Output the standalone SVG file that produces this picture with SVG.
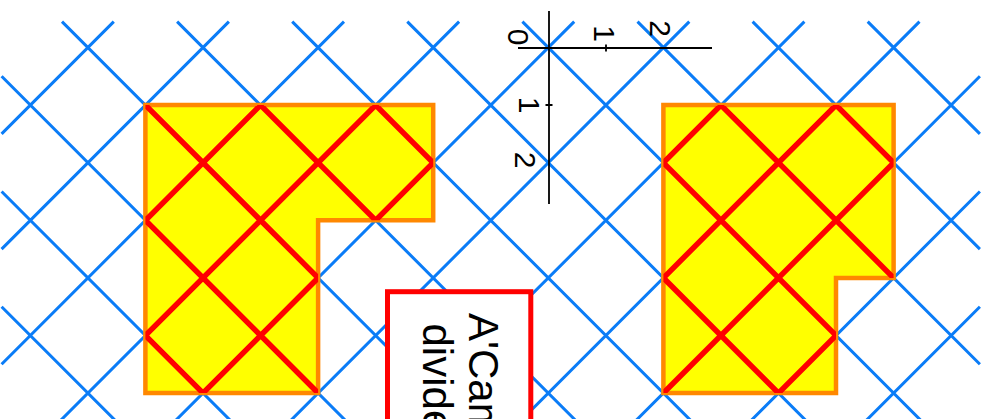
<svg xmlns="http://www.w3.org/2000/svg" xmlns:xlink="http://www.w3.org/1999/xlink" width="988" height="419" viewBox="0 0 988 419">
<style>
.grid{fill:none;stroke:#0a7cf7;stroke-width:3}
.red{fill:none;stroke:#ff0000;stroke-width:5.5}
.shape{fill:#ffff00;stroke:#ff8800;stroke-width:4.5}
.axis{fill:none;stroke:#000;stroke-width:1.8}
.lbl{font-family:"Liberation Sans",Arial,sans-serif;font-size:30px;fill:#000}
.note{fill:#fff;stroke:#ff0000;stroke-width:5}
.notetext{font-family:"Liberation Sans",Arial,sans-serif;font-size:42px;fill:#000}
</style>
<defs>
<path id="lattice" d="M1.6 306.7L203 508.3M1.6 191.5L318.1 508.3M1.6 76.3L433.2 508.3M62 21.6L548.3 508.3M177.1 21.6L663.4 508.3M292.2 21.6L778.5 508.3M407.3 21.6L893.6 508.3M522.4 21.6L979.9 479.5M637.5 21.6L979.9 364.3M752.6 21.6L979.9 249.1M867.7 21.6L979.9 133.9M1.6 133.9L113.8 21.6M1.6 249.1L228.9 21.6M1.6 364.3L344 21.6M1.6 479.5L459.1 21.6M87.9 508.3L574.2 21.6M203 508.3L689.3 21.6M318.1 508.3L804.4 21.6M433.2 508.3L919.5 21.6M548.3 508.3L979.9 76.3M663.4 508.3L979.9 191.5M778.5 508.3L979.9 306.7M893.6 508.3L979.9 421.9"/>
<polygon id="polyL" points="145.4,105.1 433.2,105.1 433.2,220.3 318.1,220.3 318.1,393.1 145.4,393.1"/>
<polygon id="polyR" points="663.4,105.1 893.6,105.1 893.6,277.9 836,277.9 836,393.1 663.4,393.1"/>
<clipPath id="clipL"><use xlink:href="#polyL"/></clipPath>
<clipPath id="clipR"><use xlink:href="#polyR"/></clipPath>
</defs>
<g id="grid">
<use xlink:href="#lattice" class="grid"/>
</g>
<g id="shape-left">
<use xlink:href="#polyL" class="shape"/>
<use xlink:href="#lattice" class="red" clip-path="url(#clipL)"/>
</g>
<g id="shape-right">
<use xlink:href="#polyR" class="shape"/>
<use xlink:href="#lattice" class="red" clip-path="url(#clipR)"/>
</g>
<g id="axes">
<path class="axis" d="M518 48H712M549 11V204M606 44.5V51.5M545.5 105H552.5"/>
<text class="lbl" text-anchor="middle" dominant-baseline="central" transform="translate(518.5,37) rotate(90)">0</text>
<text class="lbl" text-anchor="middle" dominant-baseline="central" transform="translate(604,33.5) rotate(90)">1</text>
<text class="lbl" text-anchor="middle" dominant-baseline="central" transform="translate(660,28.5) rotate(90)">2</text>
<text class="lbl" text-anchor="middle" dominant-baseline="central" transform="translate(529,105) rotate(90)">1</text>
<text class="lbl" text-anchor="middle" dominant-baseline="central" transform="translate(525,160) rotate(90)">2</text>
</g>
<g id="note">
<rect class="note" x="387.5" y="291.7" width="143.3" height="200"/>
<text class="notetext" transform="translate(469,313) rotate(90)">A'Cam</text>
<text class="notetext" transform="translate(423,323.5) rotate(90)">divide</text>
</g>
</svg>
